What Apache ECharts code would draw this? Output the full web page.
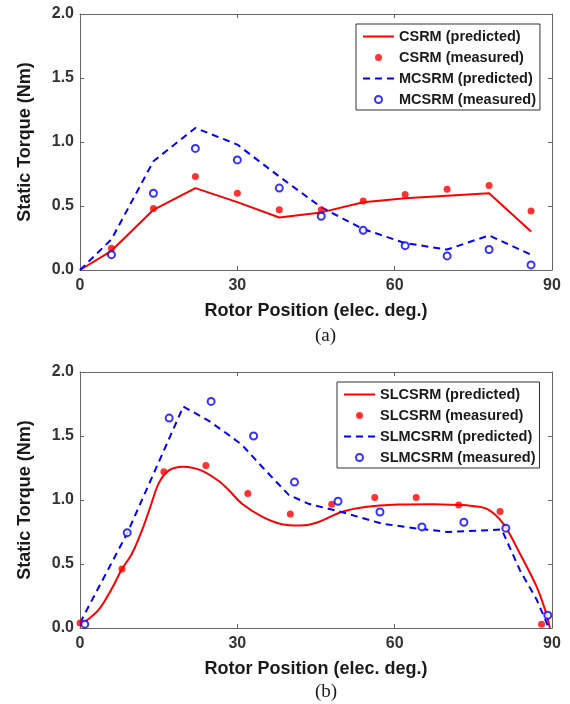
<!DOCTYPE html>
<html>
<head>
<meta charset="utf-8">
<script src="https://cdn.jsdelivr.net/npm/echarts@6/dist/echarts.min.js"></script>
<style>
html, body { margin: 0; padding: 0; background: #ffffff; }
#chart { width: 570px; height: 704px; }
</style>
</head>
<body>
<div id="chart"></div>
<script>
// (a) CSRM / MCSRM
const posPredA = [0, 6, 14, 22, 30, 38, 46, 54, 62, 70, 78, 86]
const csrmPred = [0, 0.15, 0.47, 0.64, 0.53, 0.41, 0.45, 0.53, 0.56, 0.58, 0.60, 0.30]
const mcsrmPred = [0, 0.24, 0.85, 1.11, 0.98, 0.73, 0.49, 0.32, 0.21, 0.16, 0.27, 0.12]
const posMeasA = [6, 14, 22, 30, 38, 46, 54, 62, 70, 78, 86]
const csrmMeas = [0.17, 0.48, 0.73, 0.60, 0.47, 0.47, 0.54, 0.59, 0.63, 0.66, 0.46]
const mcsrmMeas = [0.12, 0.60, 0.95, 0.86, 0.64, 0.42, 0.31, 0.19, 0.11, 0.16, 0.04]

// (b) SLCSRM / SLMCSRM
const slcsrmPredX = [0, 3.5, 6.1, 8.0, 9.9, 11.8, 13.4, 15.0, 16.9, 19.7, 23.2, 26.4, 28.3, 30.9, 34.7, 38.5, 42.0, 44.9, 49.9, 54.4, 60.7, 67.1, 72.8, 74.4, 77.6, 80.7, 83.9, 87.1, 88.7, 89.6]
const slcsrmPredY = [0.02, 0.14, 0.31, 0.46, 0.58, 0.76, 0.945, 1.13, 1.23, 1.26, 1.23, 1.15, 1.08, 0.97, 0.87, 0.81, 0.80, 0.82, 0.906, 0.945, 0.964, 0.967, 0.96, 0.955, 0.93, 0.815, 0.58, 0.32, 0.14, 0.0]
const slmcsrmPredX = [0, 9.0, 19.7, 24.5, 28.3, 30.9, 34.7, 39.8, 43.6, 49.9, 57.6, 64.5, 70.2, 75.7, 80.4, 83.9, 87.1, 89.3]
const slmcsrmPredY = [0.04, 0.74, 1.73, 1.62, 1.51, 1.43, 1.26, 1.04, 0.97, 0.906, 0.815, 0.776, 0.75, 0.76, 0.77, 0.45, 0.22, 0.01]
const slcsrmMeasX = [0, 8.0, 16.0, 24.0, 32.0, 40.1, 48.0, 56.2, 64.1, 72.2, 80.1, 88.0]
const slcsrmMeasY = [0.04, 0.46, 1.22, 1.27, 1.05, 0.89, 0.966, 1.02, 1.02, 0.96, 0.91, 0.03]
const slmcsrmMeasX = [0.9, 9.0, 17.0, 25.0, 33.1, 40.9, 49.2, 57.2, 65.2, 73.2, 81.2, 89.2]
const slmcsrmMeasY = [0.03, 0.745, 1.64, 1.77, 1.50, 1.14, 0.99, 0.906, 0.79, 0.826, 0.78, 0.10]

const xTicks = [0, 30, 60, 90]
const yTicks = [0, 0.5, 1.0, 1.5, 2.0]

const SANS = '"Liberation Sans", Arial, sans-serif'
const SERIF = '"Liberation Serif", "Times New Roman", serif'
const AXIS_COLOR = '#666666'

function zip(xs, ys){
    return xs.map((x, i) => [x, ys[i]])
}

function createGrid(){
    return [
        { left: 80, top: 14, width: 472, height: 256 },
        { left: 80, top: 372, width: 472, height: 256 }
    ]
}

function createXAxis(){
    const axes = []
    for(let g = 0; g < 2; g++){
        axes.push({
            type: 'value', gridIndex: g, position: 'bottom',
            min: xTicks[0], max: xTicks[xTicks.length - 1], interval: 30,
            name: 'Rotor Position (elec. deg.)', nameLocation: 'middle', nameGap: 32,
            nameTextStyle: { fontFamily: SANS, fontWeight: 'bold', fontSize: 18, color: '#1a1a1a' },
            axisLine: { show: true, lineStyle: { color: AXIS_COLOR, width: 1 } },
            axisTick: { show: true, inside: true, length: 4, lineStyle: { color: AXIS_COLOR } },
            axisLabel: { margin: 8, fontFamily: SANS, fontWeight: 'bold', fontSize: 16, color: '#333333' },
            splitLine: { show: false }
        })
        // box top edge
        axes.push({
            type: 'value', gridIndex: g, position: 'top',
            min: 0, max: 90, interval: 30,
            axisLine: { show: true, onZero: false, lineStyle: { color: AXIS_COLOR, width: 1 } },
            axisTick: { show: true, inside: true, length: 4, lineStyle: { color: AXIS_COLOR } },
            axisLabel: { show: false },
            splitLine: { show: false }
        })
    }
    return axes
}

function createYAxis(){
    const axes = []
    for(let g = 0; g < 2; g++){
        axes.push({
            type: 'value', gridIndex: g, position: 'left',
            min: yTicks[0], max: yTicks[yTicks.length - 1], interval: 0.5,
            name: 'Static Torque (Nm)', nameLocation: 'middle', nameGap: 46,
            nameTextStyle: { fontFamily: SANS, fontWeight: 'bold', fontSize: 18, color: '#1a1a1a' },
            axisLine: { show: true, lineStyle: { color: AXIS_COLOR, width: 1 } },
            axisTick: { show: true, inside: true, length: 4, lineStyle: { color: AXIS_COLOR } },
            axisLabel: {
                margin: 6, fontFamily: SANS, fontWeight: 'bold', fontSize: 16, color: '#333333',
                formatter: function(value){ return value.toFixed(1) }
            },
            splitLine: { show: false }
        })
        // box right edge
        axes.push({
            type: 'value', gridIndex: g, position: 'right',
            min: 0, max: 2, interval: 0.5,
            axisLine: { show: true, onZero: false, lineStyle: { color: AXIS_COLOR, width: 1 } },
            axisTick: { show: true, inside: true, length: 4, lineStyle: { color: AXIS_COLOR } },
            axisLabel: { show: false },
            splitLine: { show: false }
        })
    }
    return axes
}

function lineSeries(name, data, color, dashed, g, smooth){
    return {
        name: name, type: 'line', data: data,
        xAxisIndex: g * 2, yAxisIndex: g * 2,
        symbol: 'none', smooth: smooth || false,
        lineStyle: { color: color, width: 2, type: dashed ? [7, 5] : 'solid' },
        itemStyle: { color: color },
        z: 3
    }
}

function dotSeries(name, data, g){
    return {
        name: name, type: 'scatter', data: data,
        xAxisIndex: g * 2, yAxisIndex: g * 2,
        symbol: 'circle', symbolSize: 7,
        itemStyle: { color: '#ff0000' },
        z: 4
    }
}

function ringSeries(name, data, g){
    return {
        name: name, type: 'scatter', data: data,
        xAxisIndex: g * 2, yAxisIndex: g * 2,
        symbol: 'emptyCircle', symbolSize: 7,
        itemStyle: { color: '#0000ff', borderColor: '#0000ff', borderWidth: 2 },
        z: 5
    }
}

function createSeries(){
    return [
        lineSeries('CSRM (predicted)', zip(posPredA, csrmPred), '#ff0000', false, 0),
        dotSeries('CSRM (measured)', zip(posMeasA, csrmMeas), 0),
        lineSeries('MCSRM (predicted)', zip(posPredA, mcsrmPred), '#0000ff', true, 0),
        ringSeries('MCSRM (measured)', zip(posMeasA, mcsrmMeas), 0),
        lineSeries('SLCSRM (predicted)', zip(slcsrmPredX, slcsrmPredY), '#ff0000', false, 1, 0.3),
        dotSeries('SLCSRM (measured)', zip(slcsrmMeasX, slcsrmMeasY), 1),
        lineSeries('SLMCSRM (predicted)', zip(slmcsrmPredX, slmcsrmPredY), '#0000ff', true, 1),
        ringSeries('SLMCSRM (measured)', zip(slmcsrmMeasX, slmcsrmMeasY), 1)
    ]
}

// line entries: hide the marker the line legend icon draws in its middle
function legendItems(names){
    return names.map((n, i) => i % 2 == 0 ? { name: n, itemStyle: { opacity: 0 } } : { name: n })
}

function createLegend(){
    const common = {
        orient: 'vertical', align: 'left',
        itemWidth: 31, itemHeight: 7, itemGap: 6,
        backgroundColor: '#ffffff',
        borderColor: '#333333', borderWidth: 1,
        padding: [5, 4, 3, 6],
        textStyle: { fontFamily: SANS, fontWeight: 'bold', fontSize: 14.5, color: '#1a1a1a' },
        selectedMode: false
    }
    return [
        Object.assign({}, common, {
            left: 356, top: 24,
            data: legendItems(['CSRM (predicted)', 'CSRM (measured)', 'MCSRM (predicted)', 'MCSRM (measured)'])
        }),
        Object.assign({}, common, {
            left: 337, top: 382,
            data: legendItems(['SLCSRM (predicted)', 'SLCSRM (measured)', 'SLMCSRM (predicted)', 'SLMCSRM (measured)'])
        })
    ]
}

function createTitle(){
    const style = { fontFamily: SERIF, fontWeight: 'normal', fontSize: 19, color: '#1a1a1a' }
    return [
        { text: '(a)', left: 315, top: 327, padding: 0, textStyle: style },
        { text: '(b)', left: 315, top: 683, padding: 0, textStyle: style }
    ]
}

const chart = echarts.init(document.getElementById('chart'))
chart.setOption({
    backgroundColor: '#ffffff',
    animation: false,
    title: createTitle(),
    legend: createLegend(),
    grid: createGrid(),
    xAxis: createXAxis(),
    yAxis: createYAxis(),
    series: createSeries()
})
</script>
</body>
</html>
